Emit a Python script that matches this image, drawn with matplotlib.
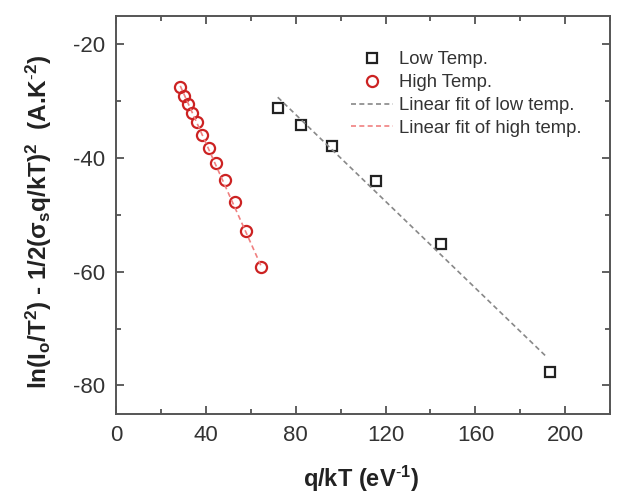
import matplotlib
matplotlib.use("Agg")
import matplotlib.pyplot as plt
from matplotlib.ticker import MultipleLocator

plt.rcParams['font.family'] = ['Liberation Sans', 'DejaVu Sans']
plt.rcParams['mathtext.fontset'] = 'custom'
plt.rcParams['mathtext.rm'] = 'Liberation Sans'
plt.rcParams['mathtext.it'] = 'Liberation Sans:italic'
plt.rcParams['mathtext.bf'] = 'Liberation Sans:bold'
plt.rcParams['axes.unicode_minus'] = False

low_x = [72.2, 82.4, 96.2, 115.8, 144.8, 193.3]
low_y = [-31.2, -34.2, -37.9, -44.0, -55.1, -77.7]
high_x = [28.6, 30.1, 31.9, 33.7, 35.9, 38.4, 41.2, 44.5, 48.4, 52.8, 58.0, 64.6]
high_y = [-27.5, -29.1, -30.5, -32.0, -33.7, -35.9, -38.2, -40.8, -43.9, -47.7, -52.8, -59.1]
low_fit_x = [72.0, 192.0]
low_fit_y = [-29.3, -75.1]
high_fit_x = [28.6, 64.6]
high_fit_y = [-27.3, -59.0]

fig = plt.figure(figsize=(6.17, 4.98), dpi=100)
ax = fig.add_axes([0.188, 0.169, 0.801, 0.799])

ax.plot(low_x, low_y, linestyle='none', marker='s', ms=7, mfc='none', mec='#222222', mew=1.6, label='Low Temp.')
ax.plot(high_x, high_y, linestyle='none', marker='o', ms=8, mfc='none', mec='#cc2222', mew=1.6, label='High Temp.')
ax.plot(low_fit_x, low_fit_y, linestyle=(0, (3, 2)), color='#888888', lw=1.2, label='Linear fit of low temp.')
ax.plot(high_fit_x, high_fit_y, linestyle=(0, (3, 2)), color='#f08080', lw=1.2, label='Linear fit of high temp.')

ax.set_xlim(0, 220)
ax.set_ylim(-85, -15)
ax.xaxis.set_major_locator(MultipleLocator(40))
ax.xaxis.set_minor_locator(MultipleLocator(20))
ax.yaxis.set_major_locator(MultipleLocator(20))
ax.yaxis.set_minor_locator(MultipleLocator(10))
ax.tick_params(which='both', direction='in', top=True, right=True, colors='#444444', labelcolor='#333333', width=1.2)
ax.tick_params(which='major', length=6, labelsize=16, pad=8)
ax.tick_params(which='minor', length=3.5)
for s in ax.spines.values():
    s.set_color('#555555')
    s.set_linewidth(1.4)

ax.set_xlabel(r'q/kT (eV$\mathbf{^{\text{-}1}}$)', fontsize=17, fontweight='bold', color='#222222')
ax.xaxis.set_label_coords(0.496, -0.125)
ax.set_ylabel(r'ln(I$\mathbf{_o}$/T$\mathbf{^2}$) - 1/2($\mathbf{\sigma_s}$q/kT)$\mathbf{^2}$  (A.K$\mathbf{^{\text{-}2}}$)',
              fontsize=17.5, fontweight='bold', color='#222222')
ax.yaxis.set_label_coords(-0.125, 0.482)

leg = ax.legend(loc='upper left', bbox_to_anchor=(0.46, 0.93), frameon=False, fontsize=13.3,
                handlelength=2.3, handletextpad=0.3, labelspacing=0.32, borderaxespad=0,
                markerscale=1.0)
for t in leg.get_texts():
    t.set_color('#333333')

fig.savefig('out.png', dpi=100)
